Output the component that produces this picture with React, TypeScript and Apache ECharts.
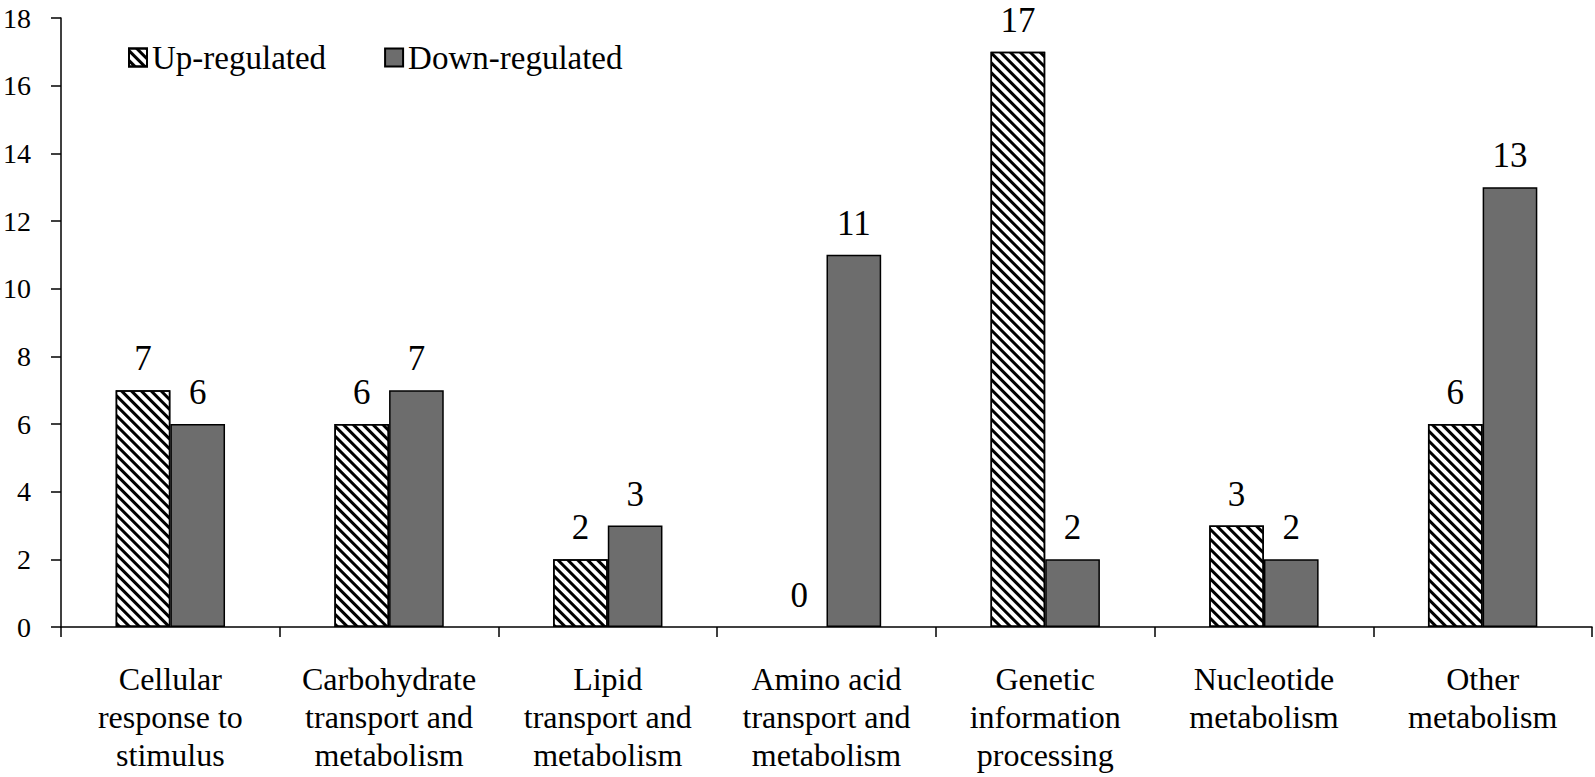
import React, { useEffect, useRef } from "react";
import * as echarts from "echarts";

const categories = [
  "Cellular\nresponse to\nstimulus",
  "Carbohydrate\ntransport and\nmetabolism",
  "Lipid\ntransport and\nmetabolism",
  "Amino acid\ntransport and\nmetabolism",
  "Genetic\ninformation\nprocessing",
  "Nucleotide\nmetabolism",
  "Other\nmetabolism",
];
const upRegulated = [7, 6, 2, 0, 17, 3, 6];
const downRegulated = [6, 7, 3, 11, 2, 2, 13];
const seriesNames = ["Up-regulated", "Down-regulated"];

const FONT = "Liberation Serif";

const toItems = (arr: number[]) =>
  arr.map((v) => (v === 0 ? { value: v, itemStyle: { borderWidth: 0 } } : v));

export default function App() {
  const ref = useRef<HTMLDivElement>(null);
  useEffect(() => {
    document.body.style.margin = "0";
    const chart = echarts.init(ref.current!, null, { renderer: "svg" });
    const label = {
      show: true,
      position: "top",
      distance: 14,
      color: "#000",
      fontSize: 35,
      fontFamily: FONT,
    };
    chart.setOption({
      animation: false,
      backgroundColor: "#fff",
      textStyle: { fontFamily: FONT },
      grid: { left: 61, right: 3, top: 18, bottom: 150, containLabel: false },
      legend: {
        left: 123,
        top: 36,
        icon: "rect",
        itemWidth: 18,
        itemHeight: 18,
        itemGap: 58,
        textStyle: { fontSize: 33, fontFamily: FONT, color: "#000" },
        data: seriesNames,
      },
      xAxis: {
        type: "category",
        data: categories,
        axisLine: { lineStyle: { color: "#000", width: 1.5 } },
        axisTick: { show: true, length: 10, lineStyle: { color: "#000", width: 1.5 } },
        axisLabel: {
          interval: 0,
          color: "#000",
          fontSize: 32,
          lineHeight: 38,
          fontFamily: FONT,
          margin: 33,
        },
      },
      yAxis: {
        type: "value",
        min: 0,
        max: 18,
        interval: 2,
        splitLine: { show: false },
        axisLine: { show: true, lineStyle: { color: "#000", width: 1.5 } },
        axisTick: { show: true, length: 10, lineStyle: { color: "#000", width: 1.5 } },
        axisLabel: { color: "#000", fontSize: 28, fontFamily: FONT, margin: 30 },
      },
      series: [
        {
          name: seriesNames[0],
          type: "bar",
          data: toItems(upRegulated),
          barGap: "0%",
          barCategoryGap: "50%",
          itemStyle: {
            color: "#fff",
            borderColor: "#000",
            borderWidth: 1.5,
            decal: {
              symbol: "rect",
              symbolSize: 1,
              color: "#000",
              dashArrayX: [1, 0],
              dashArrayY: [2.5, 3.5],
              rotation: Math.PI / 4,
            },
          },
          label,
        },
        {
          name: seriesNames[1],
          type: "bar",
          data: toItems(downRegulated),
          barGap: "0%",
          barCategoryGap: "50%",
          itemStyle: { color: "#6d6d6d", borderColor: "#000", borderWidth: 1.5 },
          label,
        },
      ],
    });
    return () => chart.dispose();
  }, []);
  return <div ref={ref} style={{ width: 1595, height: 777 }} />;
}
